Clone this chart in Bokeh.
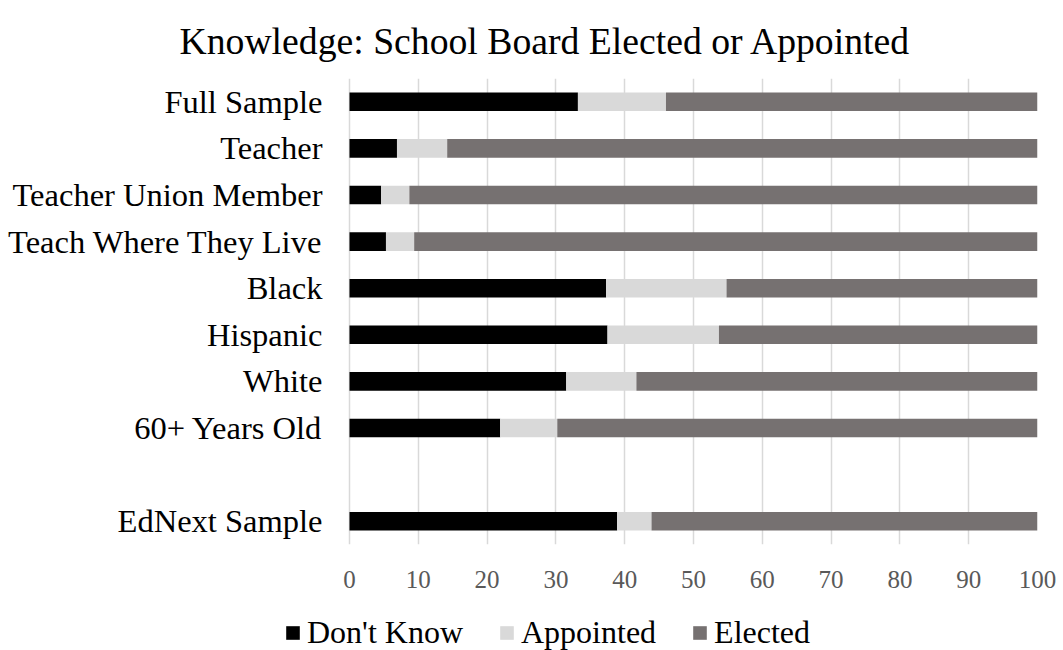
from bokeh.plotting import figure
from bokeh.layouts import column
from bokeh.models import FactorRange, Legend, LegendItem, ColumnDataSource
from bokeh.embed import file_html
from bokeh.resources import INLINE

categories = ["Full Sample", "Teacher", "Teacher Union Member", "Teach Where They Live",
              "Black", "Hispanic", "White", "60+ Years Old", " ", "EdNext Sample"]
dont_know = [33.2, 6.9, 4.6, 5.3, 37.3, 37.5, 31.5, 21.9, 0, 38.9]
appointed = [12.8, 7.3, 4.1, 4.1, 17.5, 16.2, 10.2, 8.3, 0, 5.0]
elected = [54.0, 85.8, 91.3, 90.6, 45.2, 46.3, 58.3, 69.8, 0, 56.1]
series = ["Don't Know", "Appointed", "Elected"]
colors = ["#000000", "#d9d9d9", "#767171"]
x_ticks = [0, 10, 20, 30, 40, 50, 60, 70, 80, 90, 100]
title_text = "Knowledge: School Board Elected or Appointed"

FONT = "Liberation Serif"
LEFT = 284          # frame left (legend starts here)
X_MIN = -65 / 6.88  # value axis starts so that 0 sits 65 px right of the frame edge

src = ColumnDataSource(dict(cat=categories, dk=dont_know, ap=appointed, el=elected))

# ---- chart
p = figure(frame_width=1037 - LEFT, frame_height=466, output_backend="svg", toolbar_location=None,
           y_range=FactorRange(factors=list(reversed(categories))),
           x_range=(X_MIN, 100),
           min_border_left=LEFT, min_border_right=26, min_border_top=77, min_border_bottom=65)

p.hbar_stack(["dk", "ap", "el"], y="cat", height=0.4, source=src,
             color=colors, line_color=None)

p.title.text = title_text
p.title.text_font = FONT
p.title.text_font_size = "37.7px"
p.title.text_font_style = "normal"
p.title.text_color = "#000000"
p.title.align = "left"
p.title.offset = -105
p.title.standoff = 34

p.outline_line_color = None
p.ygrid.grid_line_color = None
p.xgrid.grid_line_color = "#d9d9d9"
p.xgrid.grid_line_width = 1.5
p.xaxis.ticker = x_ticks
p.xaxis.axis_line_color = None
p.xaxis.major_tick_line_color = None
p.xaxis.minor_tick_line_color = None
p.xaxis.major_tick_out = 0
p.xaxis.major_label_text_font = FONT
p.xaxis.major_label_text_font_size = "25px"
p.xaxis.major_label_text_color = "#595959"
p.xaxis.major_label_standoff = 26

p.yaxis.axis_line_color = None
p.yaxis.major_tick_line_color = None
p.yaxis.minor_tick_line_color = None
p.yaxis.major_tick_out = 0
p.yaxis.major_label_text_font = FONT
p.yaxis.major_label_text_font_size = "32.5px"
p.yaxis.major_label_text_color = "#000000"
p.yaxis.major_label_standoff = -(322 - LEFT)

# ---- legend strip
pl = figure(width=1063, height=42, output_backend="svg", toolbar_location=None,
            x_axis_type=None, y_axis_type=None, x_range=(X_MIN, 100),
            y_range=FactorRange(factors=list(reversed(categories))),
            min_border_left=LEFT, min_border_right=26, min_border_top=0, min_border_bottom=0)
pl.outline_line_color = None
pl.xgrid.visible = False
pl.ygrid.visible = False
keys = pl.hbar_stack(["dk", "ap", "el"], y="cat", height=0.4, source=src,
                     color=colors, line_color=None)
for k in keys:
    k.visible = False

legend = Legend(items=[LegendItem(label=s, renderers=[r]) for s, r in zip(series, keys)],
                orientation="horizontal", location=(0, 0),
                label_text_font=FONT, label_text_font_size="32px", label_text_color="#000000",
                glyph_width=17, glyph_height=17, label_standoff=6, spacing=35,
                inactive_fill_alpha=0,
                background_fill_alpha=0, border_line_color=None, padding=0, margin=0)
pl.add_layout(legend, "center")

open("out.html", "w").write(file_html(column(p, pl, spacing=0), INLINE))
